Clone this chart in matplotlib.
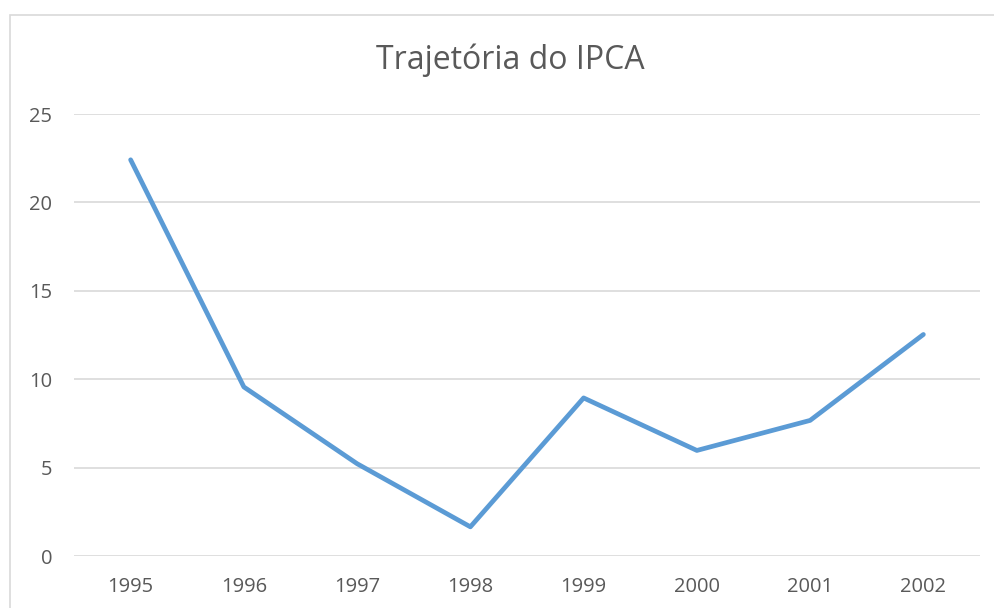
import matplotlib
matplotlib.use('Agg')
import matplotlib.pyplot as plt
from matplotlib.patches import Rectangle

# IPCA anual (%)
anos = ['1995', '1996', '1997', '1998', '1999', '2000', '2001', '2002']
ipca = [22.41, 9.56, 5.22, 1.65, 8.94, 5.97, 7.67, 12.53]
y_ticks = [0, 5, 10, 15, 20, 25]

W, H = 995, 608
fig = plt.figure(figsize=(W / 100, H / 100), dpi=100)
plt.rcParams['font.family'] = ['Open Sans', 'DejaVu Sans']

# chart area border (cut off at right/bottom like the screenshot)
fig.patches.append(Rectangle((10 / W, -0.1), 1.1, 1 - 15 / H + 0.1,
                             transform=fig.transFigure, fill=False,
                             edgecolor='#d9d9d9', linewidth=1.2))

ax = fig.add_axes([74 / W, 1 - 556 / H, (980 - 74) / W, (556 - 114) / H])
x = range(len(anos))
ax.plot(x, ipca, color='#5b9bd5', linewidth=3.4, solid_capstyle='round',
        solid_joinstyle='round', zorder=3)

ax.set_xlim(-0.5, len(anos) - 0.5)
ax.set_ylim(0, 25)
ax.set_xticks(list(x))
ax.set_xticklabels(anos)
ax.set_yticks(y_ticks)
ax.tick_params(length=0, labelsize=14.5, colors='#595959')
ax.tick_params(axis='x', pad=15)
ax.tick_params(axis='y', pad=15.5)
ax.grid(axis='y', color='#d9d9d9', linewidth=1.2)
ax.set_axisbelow(True)
for s in ax.spines.values():
    s.set_visible(False)

fig.text(510 / W, 1 - 60 / H, 'Trajetória do IPCA', ha='center', va='center',
         fontsize=23, color='#595959')

fig.savefig('out.png', dpi=100)
